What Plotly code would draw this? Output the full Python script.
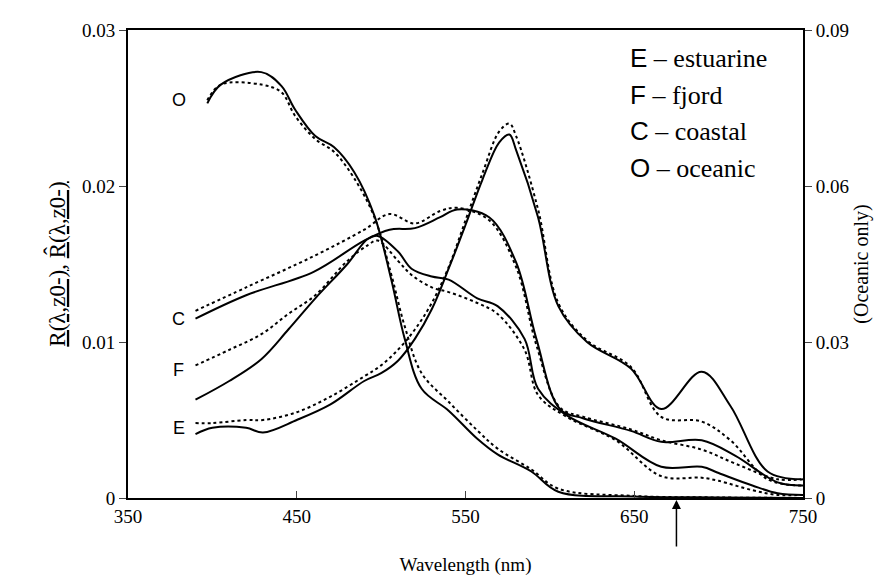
import plotly.graph_objects as go

# Estuarine
E_wl = [390,400,420,430,450,470,490,500,510,520,530,540,550,560,570,576,580,593,605,622,648,666,690,707,729,749]
E_solid = [0.0041,0.0045,0.0045,0.0042,0.005,0.006,0.0075,0.008,0.0088,0.0102,0.0121,0.0147,0.0175,0.0204,0.0228,0.0233,0.0223,0.018,0.0123,0.010,0.0083,0.0057,0.0081,0.0059,0.0017,0.0012]
E_dot = [0.0048,0.0048,0.005,0.005,0.0055,0.0065,0.0078,0.0085,0.0095,0.0108,0.0125,0.0148,0.0178,0.0208,0.0235,0.024,0.0232,0.0185,0.0125,0.0101,0.0084,0.0052,0.0049,0.0037,0.0012,0.0008]
# Fjord
F_wl = [390,410,429,445,461,480,492,498,510,518,530,540,557,569,585,593,610,639,666,690,700,720,735,750]
F_solid = [0.0063,0.0075,0.0089,0.0108,0.0128,0.0150,0.0166,0.0168,0.0158,0.0147,0.0142,0.014,0.0128,0.0123,0.0102,0.007,0.0053,0.0038,0.002,0.002,0.0016,0.0008,0.0003,0.0002]
F_dot = [0.0085,0.0095,0.0105,0.0118,0.013,0.0152,0.0162,0.0165,0.0152,0.0143,0.0135,0.0132,0.0125,0.0118,0.0095,0.0066,0.0052,0.0037,0.0014,0.0013,0.0011,0.0005,0.0002,0.0002]
# Coastal
C_wl = [390,420,460,490,505,520,535,545,564,580,592,606,620,648,666,690,710,735,750]
C_solid = [0.0115,0.013,0.0145,0.0165,0.0172,0.0173,0.018,0.0185,0.018,0.0151,0.0102,0.0057,0.0051,0.0043,0.0036,0.0037,0.0027,0.001,0.0008]
C_dot = [0.012,0.0135,0.0155,0.0172,0.0182,0.0176,0.0184,0.0186,0.0178,0.0148,0.0098,0.0058,0.0052,0.0044,0.0037,0.0031,0.0022,0.0012,0.0012]
# Oceanic (right axis units)
O_wl = [397,405,429,441,449,461,472,484,496,506,514,524,540,557,569,589,605,650,700,750]
O_solid = [0.0759,0.0795,0.0819,0.0792,0.0747,0.0696,0.0675,0.0627,0.0543,0.042,0.0306,0.021,0.0168,0.0114,0.0084,0.0051,0.0012,0.0003,0.0001,0.0]
O_dot = [0.0765,0.0795,0.0795,0.078,0.0735,0.069,0.0666,0.0615,0.054,0.043,0.033,0.024,0.0185,0.013,0.0095,0.0055,0.0018,0.0004,0.0001,0.0]

fig = go.Figure()
ln = dict(color="black", width=2)
dl = dict(color="black", width=2, dash="dot")
for wl, s, d in [(E_wl,E_solid,E_dot),(F_wl,F_solid,F_dot),(C_wl,C_solid,C_dot)]:
    fig.add_trace(go.Scatter(x=wl, y=s, mode="lines", line=dict(ln, shape="spline"), showlegend=False))
    fig.add_trace(go.Scatter(x=wl, y=d, mode="lines", line=dict(dl, shape="spline"), showlegend=False))
fig.add_trace(go.Scatter(x=O_wl, y=O_solid, mode="lines", line=dict(ln, shape="spline"), yaxis="y2", showlegend=False))
fig.add_trace(go.Scatter(x=O_wl, y=O_dot, mode="lines", line=dict(dl, shape="spline"), yaxis="y2", showlegend=False))

serif = "Liberation Serif"
sans = "Liberation Sans"
tf = dict(family=serif, size=19, color="black")
fig.update_layout(
    width=890, height=581, plot_bgcolor="white", paper_bgcolor="white",
    margin=dict(l=120, r=95, t=20, b=91),
    font=dict(family=serif, size=18, color="black"),
    xaxis=dict(range=[350,750], tickvals=[350,450,550,650,750], ticks="inside", ticklen=7, tickfont=tf,
               showline=True, linecolor="black", linewidth=2, mirror=True, showgrid=False, zeroline=False,
               title=dict(text="Wavelength (nm)", standoff=32, font=dict(family=serif, size=19))),
    yaxis=dict(range=[0,0.03], tickvals=[0,0.01,0.02,0.03], ticktext=["0","0.01","0.02","0.03"],
               ticks="outside", ticklen=7, tickfont=tf, showline=True, linecolor="black", linewidth=2,
               showgrid=False, zeroline=False,
               title=dict(text="<u>R(λ,z0-)</u>, <u>R̂(λ,z0-)</u>", font=dict(family=serif, size=23), standoff=10)),
    yaxis2=dict(range=[0,0.09], overlaying="y", side="right", tickvals=[0,0.03,0.06,0.09],
                ticktext=["0","0.03","0.06","0.09"], ticks="outside", ticklen=7, tickfont=tf,
                showline=True, linecolor="black", linewidth=2, showgrid=False,
                zeroline=False, title=dict(text="(Oceanic only)", font=dict(family=serif, size=20), standoff=6)),
)
for lab, x, y in [("O",380,0.0255),("C",380,0.0115),("F",380,0.0082),("E",380,0.0045)]:
    fig.add_annotation(x=x, y=y, text=lab, showarrow=False, font=dict(family=sans, size=18), xanchor="center")
legend = [("E","estuarine"),("F","fjord"),("C","coastal"),("O","oceanic")]
for i,(a,b) in enumerate(legend):
    fig.add_annotation(xref="paper", yref="paper", x=0.74, y=0.94-i*0.078, xanchor="left", yanchor="middle",
                       text=f"<span style='font-family:{sans}'>{a}</span> – {b}", showarrow=False,
                       font=dict(family=serif, size=26))
fig.add_annotation(x=675, y=0, xref="x", yref="y", ax=0, ay=50, axref="pixel", ayref="pixel",
                   showarrow=True, arrowhead=2, arrowwidth=1.5, arrowsize=1.2, arrowcolor="black",
                   standoff=2, text="")
fig.write_html("out.html")
